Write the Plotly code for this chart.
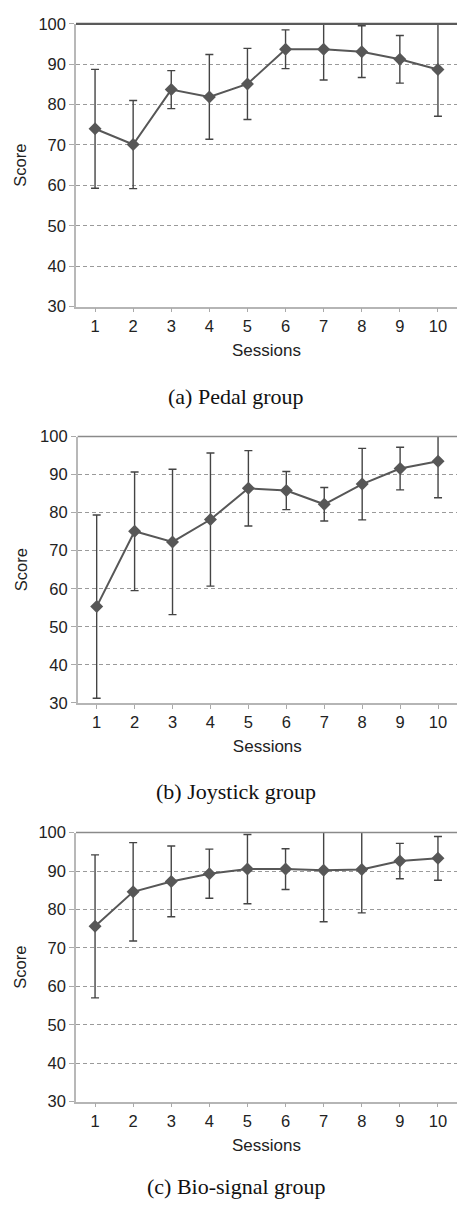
import plotly.graph_objects as go

sessions = [1, 2, 3, 4, 5, 6, 7, 8, 9, 10]
tick_labels = ["1", "2", "3", "4", "5", "6", "7", "8", "9", "10"]

pedal_mean = [74.0, 70.1, 83.7, 81.9, 85.1, 93.7, 93.7, 93.1, 91.2, 88.7]
pedal_err = [14.7, 10.9, 4.7, 10.5, 8.8, 4.8, 7.6, 6.4, 5.9, 11.6]

joystick_mean = [55.3, 75.1, 72.3, 78.2, 86.4, 85.8, 82.2, 87.5, 91.6, 93.5]
joystick_err = [24.1, 15.6, 19.1, 17.5, 9.9, 5.0, 4.4, 9.4, 5.6, 9.6]

bio_mean = [75.6, 84.6, 87.3, 89.3, 90.5, 90.5, 90.2, 90.4, 92.6, 93.3]
bio_err = [18.6, 12.8, 9.2, 6.4, 9.0, 5.3, 13.4, 11.3, 4.6, 5.7]

captions = ["(a) Pedal group", "(b) Joystick group", "(c) Bio-signal group"]
y_ticks = [30, 40, 50, 60, 70, 80, 90, 100]

W, H = 457, 1215
# panel pixel boxes: (left, top, bottom)
boxes = [(76, 15, 302), (77.7, 434, 704.3), (76, 836, 1109)]
caption_y = [393, 794, 1195]
top_line = [("#5a5a5a", 2.2), ("#8a8a8a", 1.5), ("#8a8a8a", 1.5)]

series = [(pedal_mean, pedal_err), (joystick_mean, joystick_err), (bio_mean, bio_err)]

fig = go.Figure()
DARK = "#575757"
for i, ((m, e), (left, top, bot)) in enumerate(zip(series, boxes)):
    k = "" if i == 0 else str(i + 1)
    fig.add_trace(go.Scatter(
        x=sessions, y=m,
        mode="lines+markers",
        line=dict(color=DARK, width=2),
        marker=dict(symbol="diamond", size=10, color=DARK),
        error_y=dict(type="data", array=e, visible=True, color="#444444",
                     thickness=1.4, width=4),
        xaxis="x" + k, yaxis="y" + k, showlegend=False,
    ))
    xd = [left / W, 1.0]
    yd = [1 - bot / H, 1 - top / H]
    fig.update_layout(**{
        "xaxis" + k: dict(
            domain=xd, anchor="y" + k, range=[0.5, 10.5],
            tickmode="array", tickvals=sessions, ticktext=tick_labels,
            ticks="outside", ticklen=4, tickcolor="#aaaaaa", tickwidth=1,
            showline=True, linecolor="#b5b5b5", linewidth=1.5,
            showgrid=False, zeroline=False,
            tickfont=dict(family="Liberation Sans, Arial", size=16.5, color="#222222"),
            title=dict(text="Sessions", standoff=10,
                       font=dict(family="Liberation Sans, Arial", size=17, color="#222222")),
        ),
        "yaxis" + k: dict(
            domain=yd, anchor="x" + k, range=[30, 100],
            tickmode="array", tickvals=y_ticks,
            ticks="outside", ticklen=5, tickcolor="#aaaaaa", tickwidth=1,
            showline=True, linecolor="#b8b8b8", linewidth=1.5,
            showgrid=True, gridcolor="#9a9a9a", griddash="4px,3px", gridwidth=1.2,
            zeroline=False,
            tickfont=dict(family="Liberation Sans, Arial", size=16.5, color="#222222"),
            title=dict(text="Score", standoff=8,
                       font=dict(family="Liberation Sans, Arial", size=16.5, color="#222222")),
        ),
    })
    col, lw = top_line[i]
    fig.add_shape(type="line", xref="x" + k + " domain", yref="y" + k + " domain",
                  x0=0, x1=1, y0=1, y1=1, line=dict(color=col, width=lw))
    fig.add_annotation(text=captions[i], xref="paper", yref="paper",
                       x=236 / W, y=1 - caption_y[i] / H, xanchor="center", yanchor="middle",
                       showarrow=False,
                       font=dict(family="Liberation Serif, Times New Roman", size=22, color="#111111"))

fig.update_layout(
    width=W, height=H,
    margin=dict(l=0, r=0, t=0, b=0),
    paper_bgcolor="white", plot_bgcolor="white",
)

fig.write_html("out.html")
